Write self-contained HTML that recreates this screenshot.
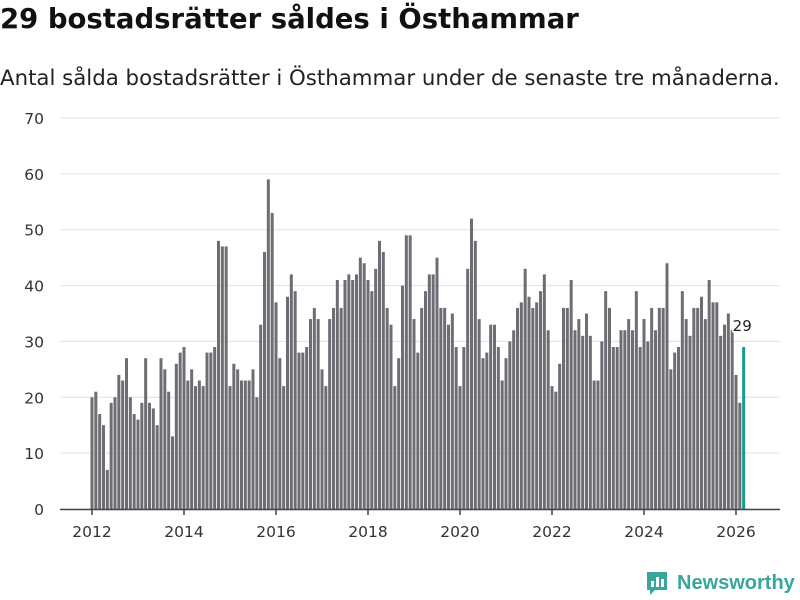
<!DOCTYPE html>
<html><head><meta charset="utf-8"><style>
body{margin:0;width:800px;height:600px;background:#fff;font-family:"DejaVu Sans","Liberation Sans",sans-serif;overflow:hidden;position:relative}
h1{position:absolute;left:0;top:3px;margin:0;font-size:27.5px;font-weight:bold;color:#111;white-space:nowrap}
p.sub{position:absolute;left:0;top:66px;margin:0;font-size:21.3px;color:#222;white-space:nowrap}
svg{position:absolute;left:0;top:0}
</style></head><body>
<h1>29 bostadsrätter såldes i Östhammar</h1>
<p class="sub">Antal sålda bostadsrätter i Östhammar under de senaste tre månaderna.</p>
<svg width="800" height="600" id="chart"></svg>
<div style="position:absolute;left:645px;top:570px;display:flex;align-items:center;">
<svg width="24" height="26" style="position:static"><path d="M2 2h20v18h-12l-5 5v-5h-3z" fill="#3aa59a"/><rect x="6" y="11" width="3" height="6" fill="#fff"/><rect x="11" y="7" width="3" height="10" fill="#fff"/><rect x="16" y="9" width="3" height="8" fill="#fff"/></svg>
<span style="margin-left:8px;font-family:'Liberation Sans',sans-serif;font-size:20px;font-weight:bold;color:#3aa59a">Newsworthy</span></div>
<script>
const startYear = 2012;
const values = [20,21,17,15,7,19,20,24,23,27,20,17,
16,19,27,19,18,15,27,25,21,13,26,28,
29,23,25,22,23,22,28,28,29,48,47,47,
22,26,25,23,23,23,25,20,33,46,59,53,
37,27,22,38,42,39,28,28,29,34,36,34,
25,22,34,36,41,36,41,42,41,42,45,44,
41,39,43,48,46,36,33,22,27,40,49,49,
34,28,36,39,42,42,45,36,36,33,35,29,
22,29,43,52,48,34,27,28,33,33,29,23,
27,30,32,36,37,43,38,36,37,39,42,32,
22,21,26,36,36,41,32,34,31,35,31,23,
23,30,39,36,29,29,32,32,34,32,39,29,
34,30,36,32,36,36,44,25,28,29,39,34,
31,36,36,38,34,41,37,37,31,33,35,32,
24,19,29];
const yTicks = [0,10,20,30,40,50,60,70];
const xTicks = [2012,2014,2016,2018,2020,2022,2024,2026];
const svg = document.getElementById('chart');
const NS='http://www.w3.org/2000/svg';
const y = v => 509 - v*391/70;
const x = m => 92 + m*46/12;
function mk(t,a){const e=document.createElementNS(NS,t);for(const k in a)e.setAttribute(k,a[k]);svg.appendChild(e);return e;}
yTicks.forEach(t=>{
  const l=mk('line',{x1:60,x2:780,y1:y(t),y2:y(t),stroke:'#e0e0e0','stroke-width':1});
  
  
  const tx=mk('text',{x:44,y:y(t)+6,'text-anchor':'end','font-size':15.5,fill:'#333'});
  tx.textContent=t;
  
  
});
values.forEach((v,i)=>{
  const last=i===values.length-1;
  const r=mk('rect',{x:x(i)-1.5,y:y(v),width:3,height:y(0)-y(v),fill:last?'#1a9a8f':'#6e6d74'});
  
  
});
const li=values.length-1;
const lab=mk('text',{x:x(li)-11,y:y(values[li])-16,'font-size':15,fill:'#222',stroke:'#fff','stroke-width':3,'paint-order':'stroke'});
lab.textContent=values[li];


const ax=mk('line',{x1:60,x2:780,y1:509.5,y2:509.5,stroke:'#444','stroke-width':1.5});


xTicks.forEach(t=>{
  const px=x((t-startYear)*12);
  const tk=mk('line',{x1:px,x2:px,y1:509,y2:515,stroke:'#444','stroke-width':1.5});
  
  
  const tx=mk('text',{x:px,y:537,'text-anchor':'middle','font-size':15.5,fill:'#333'});
  tx.textContent=t;
  
  
});
</script>
</body></html>
